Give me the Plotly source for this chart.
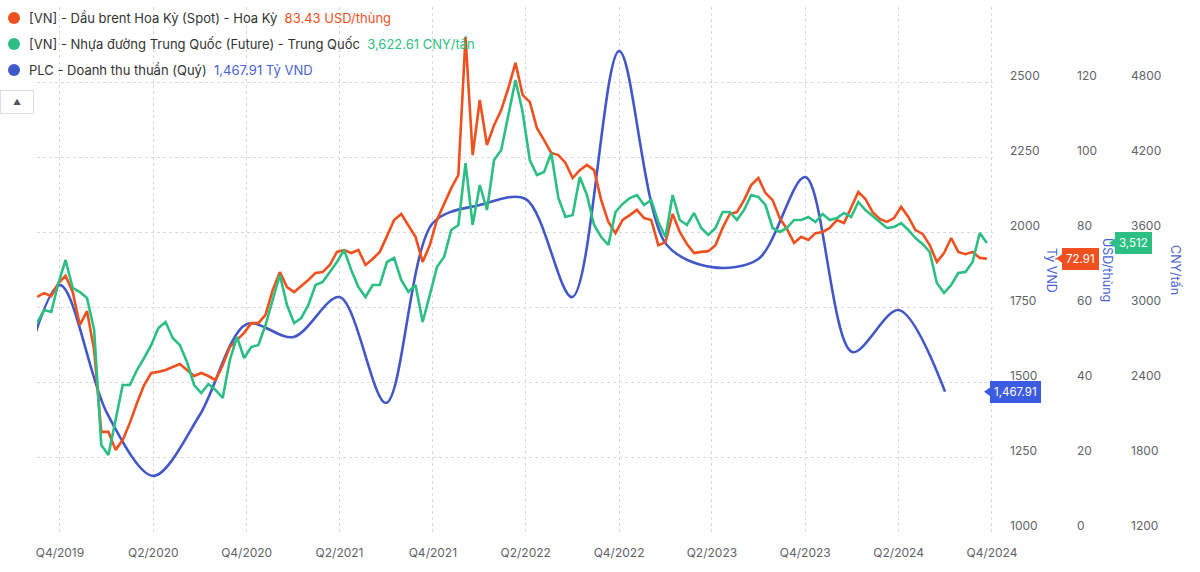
import pandas as pd
import plotly.graph_objects as go

# --- data --------------------------------------------------------------
# Brent oil, USD/thùng, sampled every 14 days from 2019-08-17
oil_usd = [
    62.7, 63.7, 62.9, 66.4, 68.3, 64.0, 55.2, 58.9, 48.5, 26.7,
    26.7, 21.9, 24.5, 29.1, 34.4, 39.2, 42.4, 42.7, 43.2, 44.0,
    44.8, 43.2, 41.6, 42.4, 41.6, 40.5, 44.5, 49.3, 51.2, 53.1,
    55.7, 55.7, 57.9, 64.5, 69.3, 65.3, 64.0, 65.6, 67.2, 69.1,
    69.3, 71.2, 74.7, 75.2, 74.4, 75.2, 71.2, 72.8, 74.7, 78.9,
    83.2, 84.8, 81.9, 78.7, 72.0, 76.5, 83.2, 87.7, 91.7, 95.2,
    132.0, 100.5, 115.2, 103.2, 108.5, 112.5, 118.4, 125.1, 116.5, 114.7,
    107.7, 104.5, 101.1, 100.5, 98.4, 94.4, 96.5, 97.9, 96.5, 88.5,
    82.7, 79.7, 83.2, 84.5, 85.9, 83.7, 83.2, 76.5, 77.3, 84.8,
    80.0, 76.8, 74.4, 74.7, 74.9, 76.5, 81.1, 84.8, 85.3, 88.5,
    92.5, 94.4, 90.4, 88.5, 83.7, 80.8, 77.1, 78.7, 77.9, 79.7,
    80.0, 81.1, 83.2, 82.4, 86.7, 90.7, 88.8, 85.3, 83.5, 82.7,
    83.7, 86.7, 84.0, 80.5, 79.5, 76.5, 72.0, 74.4, 78.4, 74.7,
    74.1, 74.7, 73.1, 72.91,
]

# China asphalt futures, CNY/tấn, same dates
asphalt_cny = [
    2872, 2976, 2960, 3192, 3376, 3152, 3120, 3072, 2816, 1896,
    1816, 2096, 2376, 2376, 2496, 2592, 2696, 2832, 2880, 2752,
    2696, 2560, 2376, 2312, 2384, 2336, 2272, 2576, 2760, 2592,
    2680, 2696, 2856, 3056, 3256, 3016, 2872, 2912, 3016, 3176,
    3200, 3280, 3360, 3456, 3296, 3160, 3080, 3176, 3176, 3360,
    3392, 3216, 3120, 3176, 2880, 3096, 3320, 3400, 3616, 3656,
    4150, 3656, 3976, 3776, 4176, 4256, 4536, 4816, 4560, 4176,
    4056, 4080, 4232, 3872, 3720, 3736, 4040, 3896, 3656, 3560,
    3496, 3760, 3824, 3872, 3896, 3816, 3856, 3680, 3560, 3896,
    3696, 3656, 3752, 3632, 3576, 3632, 3760, 3760, 3696, 3776,
    3896, 3880, 3816, 3632, 3600, 3632, 3696, 3696, 3720, 3680,
    3744, 3696, 3712, 3752, 3720, 3840, 3776, 3728, 3680, 3632,
    3640, 3672, 3616, 3552, 3504, 3440, 3192, 3112, 3176, 3272,
    3280, 3360, 3592, 3512,
]

price_dates = pd.date_range("2019-08-17", periods=len(oil_usd), freq="14D")

# PLC net revenue per quarter, Tỷ VND
rev_quarters = [
    "2019-07-01", "2019-10-01", "2020-01-01", "2020-04-01", "2020-07-01",
    "2020-10-01", "2021-01-01", "2021-04-01", "2021-07-01", "2021-10-01",
    "2022-01-01", "2022-04-01", "2022-07-01", "2022-10-01", "2023-01-01",
    "2023-04-01", "2023-07-01", "2023-10-01", "2024-01-01", "2024-04-01",
    "2024-07-01",
]
revenue = [
    1400, 1823, 1397, 1187, 1390, 1693, 1650, 1783, 1430, 2030,
    2090, 2110, 1783, 2603, 1960, 1883, 1910, 2183, 1600, 1740,
    1467.91,
]

x_tick_dates = [
    "2019-10-01", "2020-04-01", "2020-10-01", "2021-04-01", "2021-10-01",
    "2022-04-01", "2022-10-01", "2023-04-01", "2023-10-01", "2024-04-01",
    "2024-10-01",
]
x_tick_text = [
    "Q4/2019", "Q2/2020", "Q4/2020", "Q2/2021", "Q4/2021", "Q2/2022",
    "Q4/2022", "Q2/2023", "Q4/2023", "Q2/2024", "Q4/2024",
]

legend_rows = [
    ("[VN] - Dầu brent Hoa Kỳ (Spot) - Hoa Kỳ", "83.43 USD/thùng"),
    ("[VN] - Nhựa đường Trung Quốc (Future) - Trung Quốc", "3,622.61 CNY/tấn"),
    ("PLC - Doanh thu thuần (Quý)", "1,467.91 Tỷ VND"),
]

# --- style ---------------------------------------------------------------
W, H = 1200, 572
RED = "#F0501E"
GREEN = "#2BBF83"
BLUE = "#4257C8"
BADGE_BLUE = "#3B5BE0"
AXIS_TITLE = "#4A5FD0"
TICK = "#5f6368"
GRID = "#d9d9d9"
FONT = "Inter"

PLOT_L, PLOT_R, PLOT_T, PLOT_B = 37, 993, 7, 532
RANGE_VND = [1000, 2750]
RANGE_USD = [0, 140]
RANGE_CNY = [1200, 5400]


def px(x):
    return x / W


def py(y):
    return (H - y) / H


fig = go.Figure()
fig.add_trace(go.Scatter(x=price_dates, y=oil_usd, yaxis="y2", mode="lines",
                         line=dict(color=RED, width=2.6), showlegend=False))
fig.add_trace(go.Scatter(x=price_dates, y=asphalt_cny, yaxis="y3", mode="lines",
                         line=dict(color=GREEN, width=2.6), showlegend=False))
fig.add_trace(go.Scatter(x=rev_quarters, y=revenue, yaxis="y", mode="lines",
                         line=dict(color=BLUE, width=2.6, shape="spline", smoothing=0.9),
                         showlegend=False))

annotations = []
shapes = []

# legend (dot + name + coloured value)
for i, ((name, value), col, vcol) in enumerate(zip(
        legend_rows, [RED, GREEN, BLUE], [RED, GREEN, "#4A63D6"])):
    yc = 18 + 26 * i
    shapes.append(dict(type="circle", xref="paper", yref="paper",
                       x0=px(8), x1=px(20), y0=py(yc + 6), y1=py(yc - 6),
                       fillcolor=col, line=dict(width=0)))
    annotations.append(dict(
        x=px(27), y=py(yc), xref="paper", yref="paper", xanchor="left", yanchor="middle",
        showarrow=False, font=dict(family=FONT, size=13, color="#333"),
        text=f"{name}  <span style='color:{vcol}'>{value}</span>"))

# small collapse button
annotations.append(dict(x=px(17), y=py(102), xref="paper", yref="paper", showarrow=False,
                        xanchor="center", yanchor="middle",
                        text="▲", font=dict(size=8, color="#555"),
                        bordercolor="#dddddd", borderwidth=1, borderpad=5, bgcolor="white",
                        width=22, height=12))

# axis titles (rotated clockwise)
for label, xp in [("Tỷ VND", 1051), ("USD/thùng", 1107), ("CNY/tấn", 1175)]:
    annotations.append(dict(x=px(xp), y=py(270), xref="paper", yref="paper", showarrow=False,
                            xanchor="center", yanchor="middle", textangle=90, text=label,
                            font=dict(family=FONT, size=12.5, color=AXIS_TITLE)))

# last-value badges
plot_h = PLOT_B - PLOT_T
for val, yref, rng, xl, col, txt in [
    (revenue[-1], "y", RANGE_VND, 990, BADGE_BLUE, f"{revenue[-1]:,.2f}"),
    (oil_usd[-1], "y2", RANGE_USD, 1062, RED, f"{oil_usd[-1]:.2f}"),
    (asphalt_cny[-1], "y3", RANGE_CNY, 1115, GREEN, f"{asphalt_cny[-1]:,}"),
]:
    unit = (rng[1] - rng[0]) / plot_h
    annotations.append(dict(x=px(xl), y=val, xref="paper", yref=yref,
                            xanchor="left", yanchor="middle",
                            showarrow=False, text=txt, bgcolor=col, bordercolor=col,
                            borderpad=3, font=dict(family=FONT, size=11.5, color="white")))
    shapes.append(dict(type="path", xref="paper", yref=yref, fillcolor=col, line=dict(width=0),
                       path=f"M {px(xl - 6)},{val} L {px(xl + 1)},{val + 5 * unit} "
                            f"L {px(xl + 1)},{val - 5 * unit} Z"))

common_y = dict(ticks="", showline=False, zeroline=False, automargin=False,
                tickfont=dict(family=FONT, size=12, color=TICK), ticklabelshift=-6)

fig.update_layout(
    width=W, height=H, autosize=False,
    margin=dict(l=0, r=0, t=0, b=0, autoexpand=False),
    paper_bgcolor="white", plot_bgcolor="white",
    font=dict(family=FONT, color=TICK),
    xaxis=dict(domain=[px(PLOT_L), px(PLOT_R)], range=["2019-08-17", "2024-10-03"],
               tickvals=x_tick_dates, ticktext=x_tick_text, ticks="",
               showgrid=True, gridcolor=GRID, griddash="dot", gridwidth=1,
               showline=False, zeroline=False, ticklabelstandoff=12, automargin=False,
               tickfont=dict(family=FONT, size=12, color=TICK)),
    yaxis=dict(**common_y, range=RANGE_VND, domain=[py(PLOT_B), py(PLOT_T)],
               side="right", anchor="x",
               tickvals=[1000, 1250, 1500, 1750, 2000, 2250, 2500, 2750],
               ticktext=["1000", "1250", "1500", "1750", "2000", "2250", "2500", ""],
               showgrid=True, gridcolor=GRID, griddash="dot", gridwidth=1,
               ticklabelstandoff=16),
    yaxis2=dict(**common_y, range=RANGE_USD, overlaying="y", side="right",
                anchor="free", position=px(1076), showgrid=False,
                tickvals=[0, 20, 40, 60, 80, 100, 120]),
    yaxis3=dict(**common_y, range=RANGE_CNY, overlaying="y", side="right",
                anchor="free", position=px(1130), showgrid=False,
                tickvals=[1200, 1800, 2400, 3000, 3600, 4200, 4800]),
    annotations=annotations,
    shapes=shapes,
)

fig.write_html(
    "out.html",
    config={"displayModeBar": False},
    post_script="document.body.style.margin='0';document.body.style.overflow='hidden';",
)
